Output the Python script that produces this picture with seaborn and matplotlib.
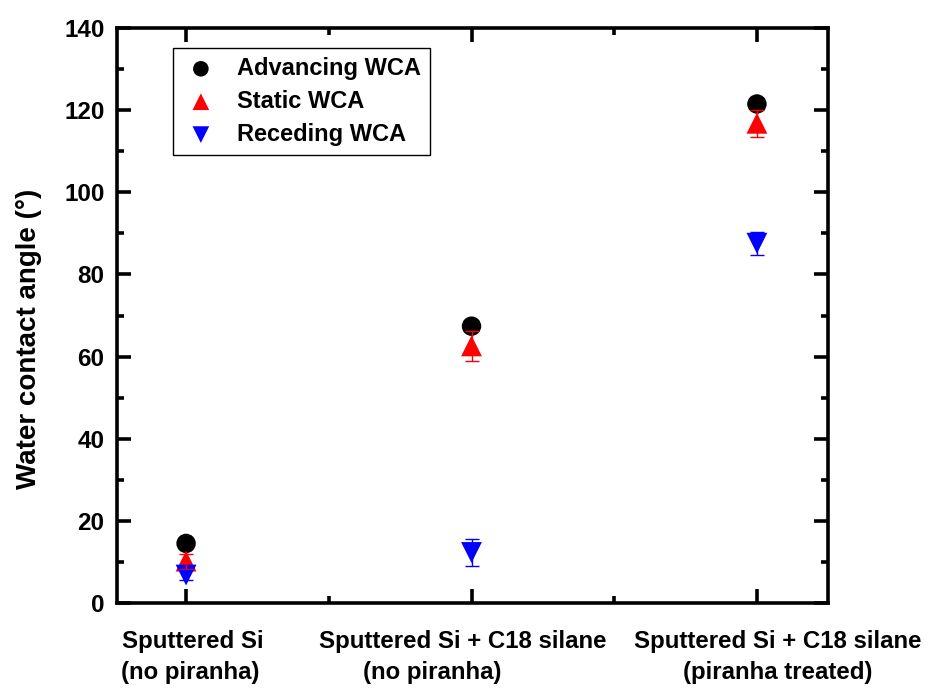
import matplotlib
matplotlib.use("Agg")
import matplotlib.pyplot as plt
import matplotlib.transforms as mtransforms
import seaborn as sns
import pandas as pd
import numpy as np
from matplotlib.ticker import MultipleLocator

categories = ["Sputtered Si\n(no piranha)",
              "Sputtered Si + C18 silane\n(no piranha)",
              "Sputtered Si + C18 silane\n(piranha treated)"]
series = ["Advancing WCA", "Static WCA", "Receding WCA"]
advancing = [14.5, 67.4, 121.5]
advancing_err = [0.8, 1.0, 1.2]
static = [10.2, 62.6, 116.8]
static_err = [1.8, 3.6, 3.3]
receding = [6.8, 12.3, 87.6]
receding_err = [1.2, 3.4, 2.8]

colors = {"Advancing WCA": "black", "Static WCA": "#ff0000", "Receding WCA": "#0000ff"}
markers = {"Advancing WCA": "o", "Static WCA": "^", "Receding WCA": "v"}
sizes_pt = {"Advancing WCA": 14, "Static WCA": 15, "Receding WCA": 15}

# horizontal pixel offsets of each category label line (line1, line2)
label_dx = [(6.5, 4.5), (-9, -39.5), (21, 21)]

xpos = np.arange(1, len(categories) + 1)
rows = []
for name, vals, errs in [("Advancing WCA", advancing, advancing_err),
                         ("Static WCA", static, static_err),
                         ("Receding WCA", receding, receding_err)]:
    for x, v, e in zip(xpos, vals, errs):
        rows.append({"x": x, "y": v, "err": e, "series": name})
df = pd.DataFrame(rows)

sns.set_theme(style="ticks", rc={"text.color": "black", "axes.labelcolor": "black",
                                 "xtick.color": "black", "ytick.color": "black",
                                 "axes.edgecolor": "black"})
plt.rcParams["font.family"] = ["Liberation Sans", "DejaVu Sans"]

fig = plt.figure(figsize=(9.25, 6.89), dpi=100)
ax = fig.add_axes([117/925, 1-603/689, (828-117)/925, (603-28)/689])

for name in series:
    sub = df[df.series == name]
    sns.scatterplot(data=sub, x="x", y="y", ax=ax, color=colors[name],
                    marker=markers[name], s=sizes_pt[name]**2, edgecolor="none",
                    linewidth=0, label=name, zorder=3)
for name in series:
    sub = df[df.series == name]
    ax.errorbar(sub.x, sub.y, yerr=sub.err, fmt="none", ecolor=colors[name],
                elinewidth=1.0, capsize=5, capthick=1.0, zorder=4)

ax.set_xlim(0.758, 3.249)
ax.set_ylim(0, 140)
ax.set_xticks(xpos)
ax.set_xticklabels([])
ax.xaxis.set_minor_locator(MultipleLocator(0.5))
ax.yaxis.set_major_locator(MultipleLocator(20))
ax.yaxis.set_minor_locator(MultipleLocator(10))
ax.tick_params(which="both", direction="in", top=True, right=True, width=2.6)
ax.tick_params(which="major", length=10)
ax.tick_params(which="minor", length=5)
for lab in ax.get_yticklabels():
    lab.set_fontweight("bold")
    lab.set_fontsize(17.5)
ax.tick_params(axis="y", pad=9)
for s in ax.spines.values():
    s.set_linewidth(2.6)
    s.set_color("black")

ax.set_xlabel("")
ax.set_ylabel("Water contact angle (°)", fontsize=20, fontweight="bold")
ax.yaxis.set_label_coords(-(117-42)/711, 0.459)

base = ax.get_xaxis_transform()
for x, lab, (dx1, dx2) in zip(xpos, categories, label_dx):
    l1, l2 = lab.split("\n")
    t1 = base + mtransforms.ScaledTranslation(dx1/100, 0, fig.dpi_scale_trans)
    t2 = base + mtransforms.ScaledTranslation(dx2/100, 0, fig.dpi_scale_trans)
    ax.text(x, (603-648)/575, l1, transform=t1, ha="center", va="baseline",
            fontsize=17.3, fontweight="bold")
    ax.text(x, (603-679)/575, l2, transform=t2, ha="center", va="baseline",
            fontsize=17.3, fontweight="bold")

leg = ax.legend(loc="upper left", bbox_to_anchor=((173-117)/711, (603-48)/575),
                frameon=True, fancybox=False, edgecolor="black", framealpha=1,
                prop={"weight": "bold", "size": 17},
                handletextpad=0.75, borderpad=0.38, labelspacing=0.42, handlelength=1.6,
                markerscale=0.8, borderaxespad=0)
leg.get_frame().set_linewidth(1.0)

fig.savefig("out.png", dpi=100)
